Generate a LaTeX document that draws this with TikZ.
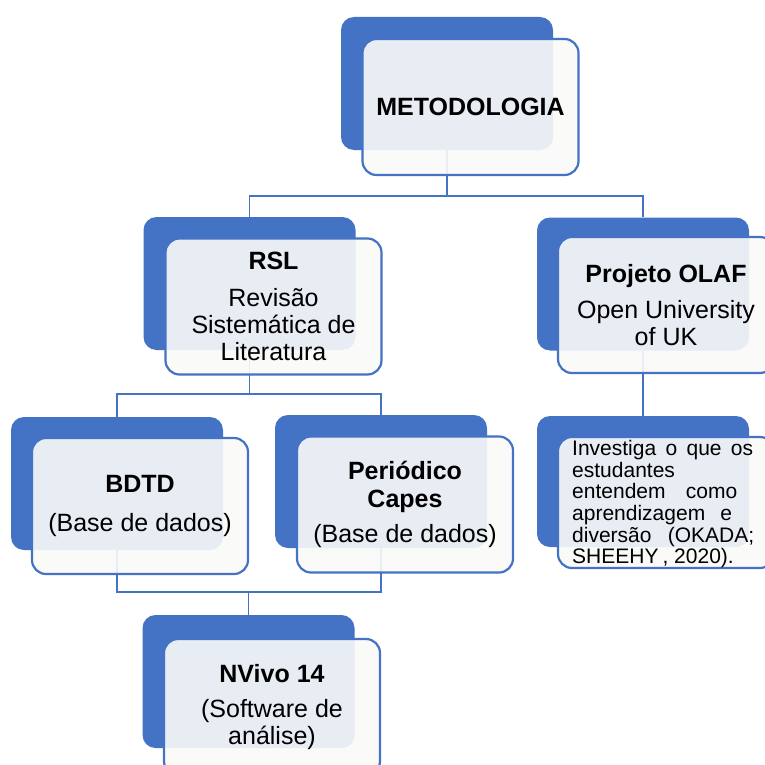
\documentclass[tikz,border=0pt]{standalone}
\usepackage{fontspec}
\setmainfont{Liberation Sans}
\definecolor{ofblue}{HTML}{4472C4}
\definecolor{frontfill}{HTML}{F9F9F8}
\begin{document}
\begin{tikzpicture}[x=1pt,y=-1pt,
  backbox/.style={rectangle, rounded corners=13pt, fill=ofblue, minimum width=212pt, minimum height=133pt, inner sep=0pt},
  frontbox/.style={rectangle, rounded corners=14pt, draw=ofblue, line width=2.2pt, fill=frontfill, fill opacity=0.91, text opacity=1, minimum width=216pt, minimum height=136pt, inner sep=0pt, align=center, font=\fontsize{25}{26.8}\selectfont},
  conn/.style={draw=ofblue, line width=1.8pt},
  thinconn/.style={draw=ofblue, line width=1.1pt},
  smalltext/.style={inner sep=0pt, align=left, font=\fontsize{21}{21.7}\selectfont}]
\useasboundingbox (0,0) rectangle (764,765);

% back (blue) boxes
\node[backbox] (mB) at (447,83.5) {};
\node[backbox] (rB) at (249.5,283.5) {};
\node[backbox] (oB) at (643,284) {};
\node[backbox] (bB) at (117,483.5) {};
\node[backbox] (pB) at (381,481.5) {};
\node[backbox, minimum height=131pt] (iB) at (643,481.5) {};
\node[backbox] (nB) at (248.5,681.5) {};

% junctions
\coordinate (j1) at (447,196);
\coordinate (j2) at (249.5,394);
\coordinate (j3) at (248.5,592);

% connectors
\draw[conn] (mB.south) -- (j1);
\draw[conn] (rB.north) |- (j1) -| (oB.north);
\draw[conn] (rB.south) -- (j2);
\draw[conn] (bB.north) |- (j2) -| (pB.north);
\draw[conn] (oB.south) -- (iB.north);
\draw[thinconn] (bB.south) |- (j3);
\draw[conn] (pB.south) |- (j3) -- (nB.north);

% front boxes with text
\node[frontbox] (mF) at (470.5,107) {\bfseries METODOLOGIA};
\node[frontbox] (rF) at (273.5,306.5) {{\bfseries RSL}\\[10pt]Revisão\\Sistemática de\\Literatura};
\node[frontbox] (oF) at (666,305) {{\bfseries Projeto OLAF}\\[9.5pt]Open University\\of UK};
\node[frontbox] (bF) at (140,506) {{\bfseries BDTD}\\[13pt](Base de dados)};
\node[frontbox] (pF) at (405,504.5) {{\bfseries Periódico}\\[1pt]{\bfseries Capes}\\[9pt](Base de dados)};
\node[frontbox, minimum height=131pt] (iF) at (666,502.5) {};
\node[frontbox] (nF) at (272,707) {{\bfseries NVivo 14}\\[9pt](Software de\\análise)};

\node[smalltext, anchor=north west] (iT) at (572,440) {%
\makebox[181pt][s]{Investiga o que os}\\
estudantes\\
\makebox[165pt][s]{entendem como}\\
\makebox[160pt][s]{aprendizagem e}\\
\makebox[182pt][s]{diversão (OKADA;}\\
SHEEHY\kern4pt, 2020).};
\end{tikzpicture}
\end{document}
